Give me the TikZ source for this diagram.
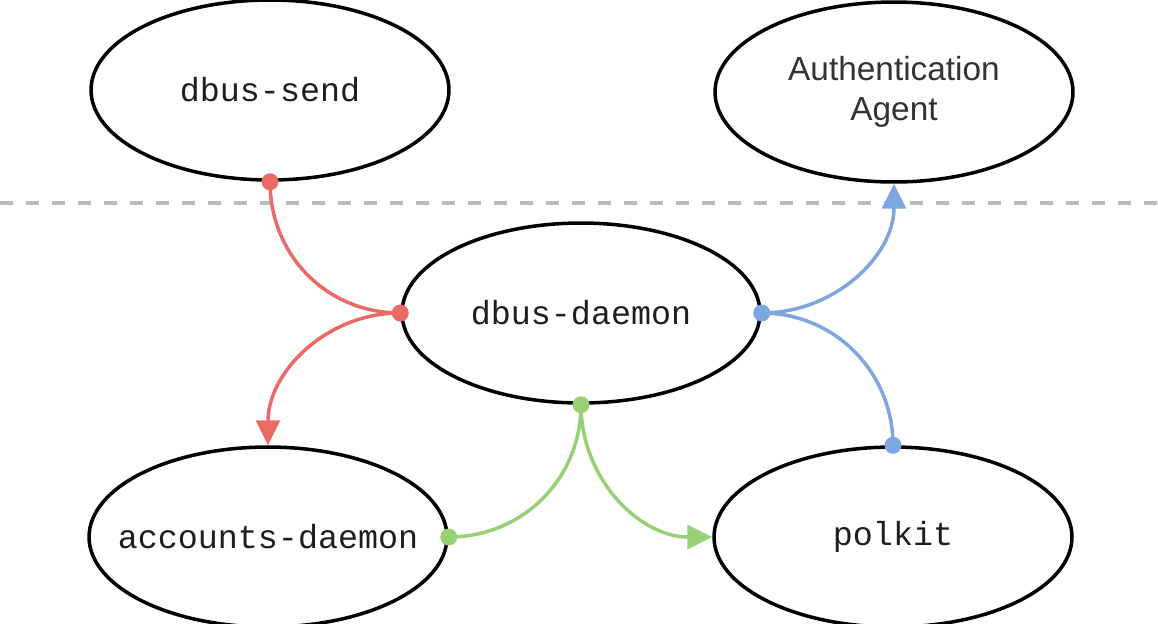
\documentclass[tikz,border=0pt]{standalone}
\usepackage{fontspec}
\setmainfont{Liberation Sans}
\setmonofont{Liberation Mono}
\usetikzlibrary{shapes.geometric,arrows.meta}
\definecolor{cred}{HTML}{EA6B66}
\definecolor{cblue}{HTML}{7EA6E0}
\definecolor{cgreen}{HTML}{97D077}
\definecolor{cdash}{HTML}{BBBBBB}
\definecolor{ctext}{HTML}{1E1E1E}
\tikzset{
  proc/.style={ellipse, draw=black, line width=2pt, fill=white,
    minimum width=7.16cm, minimum height=3.6cm, inner sep=0pt,
    text=ctext, font=\ttfamily\fontsize{19}{23}\selectfont},
  procsans/.style={proc, font=\fontsize{19}{22.7}\selectfont, text=black!80, align=center},
  link/.style={line width=2pt},
  tip/.style={-{Triangle[length=0.5cm,width=0.48cm]}},
}
\begin{document}
\begin{tikzpicture}[x=0.02cm,y=-0.02cm]
\useasboundingbox (0,0) rectangle (1158,623);
\coordinate (dl) at (0,203);
\coordinate (dr) at (1158,203);
\draw[cdash, line width=0.07cm, dash pattern=on 0.26cm off 0.26cm] (dl) -- (dr);

\node[proc] (send) at (270,90) {\makebox[0pt]{dbus-send}};
\node[procsans] (auth) at (894,92) {Authentication\\Agent};
\node[proc] (daemon) at (581,313) {\makebox[0pt]{dbus-daemon}};
\node[proc] (acc) at (268,537) {\makebox[0pt]{accounts-daemon}};
\node[proc] (polkit) at (893,537) {\makebox[0pt]{polkit}};

% red
\draw[link, cred] (send.south) .. controls +(0,73) and +(-74,0) .. (daemon.west);
\draw[link, cred, tip] (daemon.west) .. controls +(-74,0) and +(0,-73) .. (acc.north);
\fill[cred] (send.south) circle (0.17cm);
\fill[cred] (daemon.west) circle (0.17cm);

% blue
\draw[link, cblue, tip] (daemon.east) .. controls +(73,0) and +(0,72) .. (auth.south);
\draw[link, cblue] (polkit.north) .. controls +(0,-73) and +(73,0) .. (daemon.east);
\fill[cblue] (daemon.east) circle (0.17cm);
\fill[cblue] (polkit.north) circle (0.17cm);

% green
\draw[link, cgreen] (daemon.south) .. controls +(0,74) and +(74,0) .. (acc.east);
\draw[link, cgreen, tip] (daemon.south) .. controls +(0,74) and +(-73,0) .. (polkit.west);
\fill[cgreen] (daemon.south) circle (0.17cm);
\fill[cgreen] (acc.east) circle (0.17cm);
\end{tikzpicture}
\end{document}
